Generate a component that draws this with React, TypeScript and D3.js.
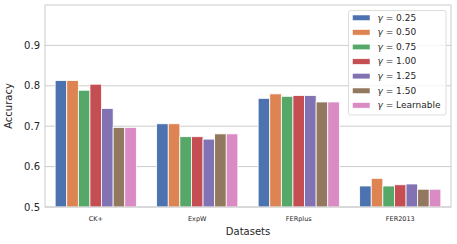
import React from 'react';
import * as d3 from 'd3';

const width = 457;
const height = 244;
const margin = {top: 5, right: 6, bottom: 37, left: 45};

const datasets = ['CK+', 'ExpW', 'FERplus', 'FER2013'];
const gammas = ['0.25', '0.50', '0.75', '1.00', '1.25', '1.50', 'Learnable'];

const g025 = [0.813, 0.706, 0.769, 0.552];
const g050 = [0.813, 0.706, 0.780, 0.571];
const g075 = [0.789, 0.674, 0.774, 0.552];
const g100 = [0.804, 0.674, 0.776, 0.555];
const g125 = [0.744, 0.668, 0.776, 0.557];
const g150 = [0.697, 0.681, 0.760, 0.544];
const gLearn = [0.697, 0.681, 0.760, 0.544];

const series = [g025, g050, g075, g100, g125, g150, gLearn];
const yTicks = [0.5, 0.6, 0.7, 0.8, 0.9];

const colors = ['#4C72B0', '#DD8452', '#55A868', '#C44E52', '#8172B3', '#937860', '#DA8BC3'];
const textColor = '#262626';
const font = 'DejaVu Sans, sans-serif';

export default function App() {
  const innerW = width - margin.left - margin.right;
  const innerH = height - margin.top - margin.bottom;

  const x0 = d3.scaleBand().domain(datasets).range([0, innerW]).paddingInner(0.2).paddingOuter(0.1);
  const x1 = d3.scaleBand().domain(gammas).range([0, x0.bandwidth()]);
  const y = d3.scaleLinear().domain([0.5, 1.0]).range([innerH, 0]);

  return (
    <svg width={width} height={height} style={{position: 'absolute', left: 0, top: 0}} fontFamily={font}>
      <rect width={width} height={height} fill="#fff" />
      <g transform={`translate(${margin.left},${margin.top})`}>
        {yTicks.map((t) => (
          <g key={t}>
            <line x1={0} x2={innerW} y1={y(t)} y2={y(t)} stroke="#cccccc" strokeWidth={1} />
            <text x={-5} y={y(t)} dy="0.35em" textAnchor="end" fontSize={10} fill={textColor}>
              {t.toFixed(1)}
            </text>
          </g>
        ))}
        {datasets.map((ds, i) => (
          <g key={ds} transform={`translate(${x0(ds)},0)`}>
            {series.map((vals, j) => (
              <rect
                key={j}
                x={x1(gammas[j])}
                y={y(vals[i])}
                width={x1.bandwidth()}
                height={innerH - y(vals[i])}
                fill={colors[j]}
                stroke="#fff"
                strokeWidth={0.8}
              />
            ))}
          </g>
        ))}
        <rect x={0} y={0} width={innerW} height={innerH} fill="none" stroke="#cccccc" strokeWidth={1} />
        {datasets.map((ds) => (
          <text key={ds} x={x0(ds)! + x0.bandwidth() / 2} y={innerH + 14} textAnchor="middle" fontSize={6.5} fill={textColor}>
            {ds}
          </text>
        ))}
        <text x={innerW / 2} y={innerH + 28} textAnchor="middle" fontSize={10} fill={textColor}>Datasets</text>
        <text transform={`translate(${-33},${innerH / 2}) rotate(-90)`} textAnchor="middle" fontSize={10} fill={textColor}>Accuracy</text>
      </g>
      <g transform="translate(348.5,10.5)">
        <rect width={97.5} height={104.5} rx={2} fill="#fff" fillOpacity={0.8} stroke="#dddddd" strokeWidth={1} />
        {gammas.map((g, j) => (
          <g key={g} transform={`translate(0,${7 + j * 14.6})`}>
            <rect x={4} y={-2.5} width={17.5} height={5.5} fill={colors[j]} stroke="#fff" strokeWidth={0.5} />
            <text x={29} y={0} dy="0.35em" fontSize={9} fill={textColor}>
              <tspan fontStyle="italic">γ</tspan> = {g}
            </text>
          </g>
        ))}
      </g>
    </svg>
  );
}
